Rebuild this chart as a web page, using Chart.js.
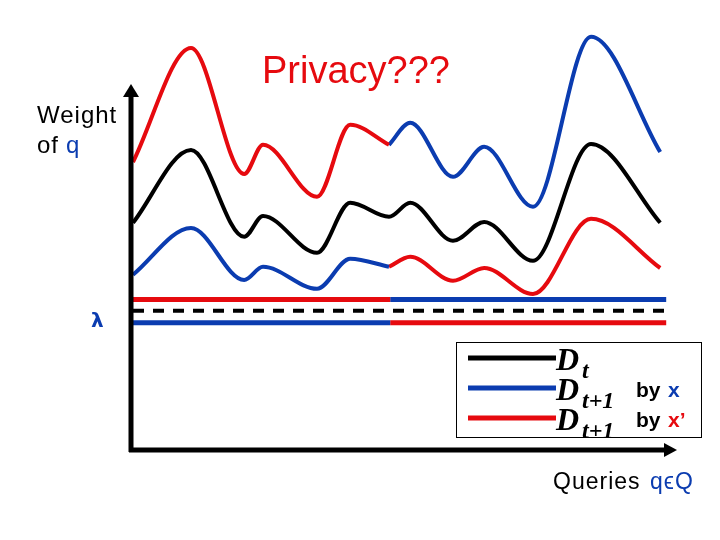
<!DOCTYPE html>
<html>
<head>
<meta charset="utf-8">
<script src="https://cdn.jsdelivr.net/npm/chart.js@4/dist/chart.umd.min.js"></script>
<style>
  html, body { margin: 0; padding: 0; background: #fff; }
  #wrap { width: 720px; height: 540px; position: relative; }
</style>
</head>
<body>
<div id="wrap"><canvas id="chart" width="720" height="540"></canvas></div>
<script>
'use strict';

// query positions along the x axis (shared by the three curves)
const queryPos  = [0.05, 1.5, 2.83, 3.3, 4.65, 5.48, 6.45, 6.98, 8.05, 8.83, 10.05, 11.5, 13.23];
// weights of each query
const weightDt      = [5.68, 7.5, 5.33, 5.85, 4.93, 6.18, 5.83, 6.18, 5.23, 5.7, 4.73, 7.65, 5.68];
const weightUpper   = [7.2, 10.05, 6.9, 7.63, 6.33, 8.13, 7.63, 8.18, 6.83, 7.58, 6.08, 10.33, 7.45];
const weightLower   = [4.38, 5.55, 4.25, 4.58, 4.03, 4.78, 4.58, 4.83, 4.23, 4.55, 3.9, 5.78, 4.55];
const splitIndex    = 6;   // where x / x' colouring swaps

// threshold lines (lambda)
const lambdaSpan  = [0.05, 6.48, 13.38];
const lambdaHigh  = 3.76;
const lambdaMid   = 3.48;
const lambdaLow   = 3.18;

const RED   = '#e60a0f';
const BLUE  = '#0b3cb0';
const BLACK = '#000000';

const pts = (xs, ys) => xs.map((x, i) => ({ x, y: ys[i] }));
const curve = (data, color) => ({
    data, borderColor: color, borderWidth: 4, pointRadius: 0,
    cubicInterpolationMode: 'monotone', showLine: true, clip: false,
});
const flat = (x0, x1, y, color, dash) => ({
    data: [{ x: x0, y }, { x: x1, y }], borderColor: color,
    borderWidth: dash ? 4 : 5, borderDash: dash || [], pointRadius: 0,
    showLine: true, clip: false,
});

const allPts    = (ys) => pts(queryPos, ys);
const firstPart = (ys) => allPts(ys).slice(0, splitIndex + 1);
const lastPart  = (ys) => allPts(ys).slice(splitIndex);

const datasets = [
    curve(allPts(weightDt), BLACK),
    curve(firstPart(weightUpper), RED),
    curve(lastPart(weightUpper), BLUE),
    curve(firstPart(weightLower), BLUE),
    curve(lastPart(weightLower), RED),
    flat(lambdaSpan[0], lambdaSpan[1], lambdaHigh, RED),
    flat(lambdaSpan[1], lambdaSpan[2], lambdaHigh, BLUE),
    flat(lambdaSpan[0], lambdaSpan[2], lambdaMid, BLACK, [11, 9]),
    flat(lambdaSpan[0], lambdaSpan[1], lambdaLow, BLUE),
    flat(lambdaSpan[1], lambdaSpan[2], lambdaLow, RED),
];

// axes, arrows, labels and legend box
const decor = {
    id: 'decor',
    afterDraw(chart) {
        const ctx = chart.ctx;
        const xs = chart.scales.x, ys = chart.scales.y;
        const x0 = xs.getPixelForValue(0), y0 = ys.getPixelForValue(0);
        const yTop = ys.getPixelForValue(9.15);
        const xEnd = xs.getPixelForValue(13.65);

        ctx.save();
        ctx.fillStyle = BLACK;
        ctx.strokeStyle = BLACK;
        ctx.lineWidth = 5;
        ctx.beginPath();
        ctx.moveTo(x0, y0 + 2); ctx.lineTo(x0, yTop + 8);
        ctx.moveTo(x0 - 2, y0); ctx.lineTo(xEnd - 8, y0);
        ctx.stroke();
        ctx.beginPath();
        ctx.moveTo(x0, yTop); ctx.lineTo(x0 - 8, yTop + 13); ctx.lineTo(x0 + 8, yTop + 13);
        ctx.closePath(); ctx.fill();
        ctx.beginPath();
        ctx.moveTo(xEnd, y0); ctx.lineTo(xEnd - 13, y0 - 7); ctx.lineTo(xEnd - 13, y0 + 7);
        ctx.closePath(); ctx.fill();

        // texts
        const sans = '"Liberation Sans", Arial, sans-serif';
        ctx.textBaseline = 'alphabetic';
        ctx.font = '38px ' + sans;
        ctx.fillStyle = RED;
        ctx.fillText('Privacy???', 262, 83);

        ctx.font = '24px ' + sans;
        ctx.letterSpacing = '1px';
        ctx.fillStyle = BLACK;
        ctx.fillText('Weight', 37, 123);
        ctx.fillText('of', 37, 153);
        ctx.fillStyle = BLUE;
        ctx.fillText('q', 66, 153);
        ctx.letterSpacing = '0px';

        ctx.font = 'bold 20px "DejaVu Sans", sans-serif';
        ctx.fillText('λ', 91, 327);

        ctx.font = '23px ' + sans;
        ctx.letterSpacing = '1px';
        ctx.fillStyle = BLACK;
        ctx.fillText('Queries', 553, 489);
        ctx.fillStyle = BLUE;
        ctx.fillText('q\u03F5Q', 650, 489);
        ctx.letterSpacing = '0px';

        // legend
        ctx.lineWidth = 1;
        ctx.strokeStyle = BLACK;
        ctx.strokeRect(456.5, 342.5, 245, 95);
        const rows = [
            { y: 358, color: BLACK, sub: 't', by: null },
            { y: 388, color: BLUE, sub: 't+1', by: 'x' },
            { y: 418, color: RED, sub: 't+1', by: 'x\u2019' },
        ];
        rows.forEach(r => {
            ctx.lineWidth = 5;
            ctx.strokeStyle = r.color;
            ctx.beginPath(); ctx.moveTo(468, r.y); ctx.lineTo(556, r.y); ctx.stroke();
            ctx.fillStyle = BLACK;
            ctx.font = 'bold italic 32px "Liberation Serif", "DejaVu Serif", serif';
            ctx.fillText('D', 556, r.y + 12);
            ctx.font = 'bold italic 24px "Liberation Serif", "DejaVu Serif", serif';
            ctx.fillText(r.sub, 582, r.y + 20);
            if (r.by) {
                ctx.font = 'bold 21px ' + sans;
                ctx.fillStyle = BLACK;
                ctx.fillText('by', 636, r.y + 9);
                ctx.fillStyle = r.color;
                ctx.fillText(r.by, 668, r.y + 9);
            }
        });
        ctx.restore();
    },
};

new Chart(document.getElementById('chart').getContext('2d'), {
    type: 'scatter',
    data: { datasets },
    options: {
        responsive: false,
        animation: false,
        events: [],
        layout: { padding: { left: 131, right: 29, top: 30, bottom: 90 } },
        plugins: { legend: { display: false }, tooltip: { enabled: false } },
        scales: {
            x: { type: 'linear', min: 0, max: 14, display: false },
            y: { type: 'linear', min: 0, max: 10.5, display: false },
        },
    },
    plugins: [decor],
});
</script>
</body>
</html>
